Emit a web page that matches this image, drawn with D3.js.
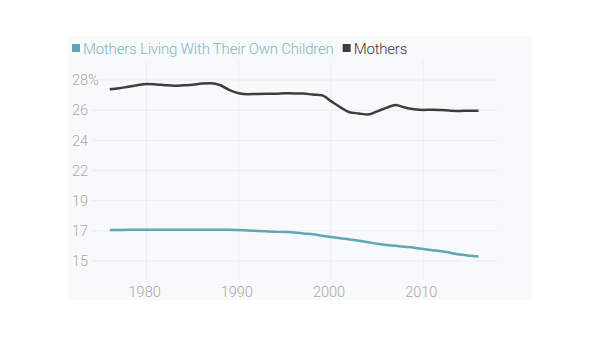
<!DOCTYPE html>
<html>
<head>
<meta charset="utf-8">
<script src="https://cdn.jsdelivr.net/npm/d3@7"></script>
<style>
  body { margin: 0; background: #fff; }
  svg { font-family: "Roboto", sans-serif; font-weight: 300; }
</style>
</head>
<body>
<svg id="chart" width="595" height="352"></svg>
<script>
// data (share of population, %)
const years = d3.range(1976, 2017);
const mothers = [
  27.33, 27.40, 27.52, 27.63, 27.71, 27.68, 27.63, 27.59, 27.62, 27.66,
  27.74, 27.76, 27.62, 27.28, 27.05, 26.98, 27.00, 27.01, 27.01, 27.05,
  27.03, 27.03, 26.95, 26.90, 26.48, 26.05, 25.68, 25.60, 25.52, 25.75,
  26.00, 26.21, 26.02, 25.90, 25.85, 25.87, 25.84, 25.80, 25.78, 25.79,
  25.79
];
const mothersWithChildren = [
  17.22, 17.23, 17.24, 17.24, 17.25, 17.25, 17.25, 17.25, 17.25, 17.25,
  17.25, 17.25, 17.25, 17.25, 17.22, 17.19, 17.16, 17.13, 17.10, 17.08,
  17.05, 16.98, 16.92, 16.82, 16.72, 16.63, 16.55, 16.45, 16.35, 16.24,
  16.15, 16.09, 16.02, 15.95, 15.86, 15.78, 15.70, 15.58, 15.46, 15.38,
  15.33
];
const xTicks = [1980, 1990, 2000, 2010];
const yTicks = d3.range(7).map(i => 15 + i * 13 / 6);
const seriesNames = ["Mothers Living With Their Own Children", "Mothers"];
const seriesColours = ["#62a6b5", "#3e3e3e"];
const legendColours = ["#7fb7c3", "#3a3a3a"];

const svg = d3.select("#chart");

// panel background
svg.append("rect")
  .attr("x", 67).attr("y", 36)
  .attr("width", 466).attr("height", 264)
  .attr("rx", 5)
  .attr("fill", "#f8f9fa");

const x = d3.scaleLinear().domain([1974.4, 2018]).range([95, 497]);
const y = d3.scaleLinear().domain([15, 28]).range([261, 80]);

// grid
svg.append("g")
  .selectAll("line")
  .data(yTicks)
  .join("line")
  .attr("x1", 92).attr("x2", 497)
  .attr("y1", d => y(d)).attr("y2", d => y(d))
  .attr("stroke", "#eaecef")
  .attr("stroke-width", 1);

svg.append("g")
  .selectAll("line")
  .data(xTicks)
  .join("line")
  .attr("x1", d => x(d)).attr("x2", d => x(d))
  .attr("y1", 62).attr("y2", 280)
  .attr("stroke", "#eaecef")
  .attr("stroke-width", 1);

// y labels
svg.append("g")
  .selectAll("text")
  .data(yTicks)
  .join("text")
  .attr("x", 72)
  .attr("y", d => y(d))
  .attr("dy", "0.36em")
  .attr("font-size", 14.5)
  .attr("fill", "#a9a9a9")
  .text((d, i) => Math.round(d) + (i === yTicks.length - 1 ? "%" : ""));

// x labels
svg.append("g")
  .selectAll("text")
  .data(xTicks)
  .join("text")
  .attr("x", d => x(d) - 2)
  .attr("y", 297)
  .attr("text-anchor", "middle")
  .attr("font-size", 14.5)
  .attr("fill", "#a9a9a9")
  .text(d => d);

// lines
const line = d3.line()
  .x((d, i) => x(years[i]))
  .y(d => y(d))
  .curve(d3.curveMonotoneX);

[mothersWithChildren, mothers].forEach((s, k) => {
  svg.append("path")
    .datum(s)
    .attr("d", line)
    .attr("fill", "none")
    .attr("stroke", seriesColours[k])
    .attr("stroke-width", 2.5)
    .attr("stroke-linejoin", "round");
});

// legend
const legend = svg.append("g").attr("transform", "translate(72, 54)");
let lx = 0;
seriesNames.forEach((name, k) => {
  const g = legend.append("g").attr("transform", `translate(${lx}, 0)`);
  g.append("rect")
    .attr("x", 0).attr("y", -10)
    .attr("width", 8).attr("height", 8)
    .attr("fill", seriesColours[k]);
  const t = g.append("text")
    .attr("x", 11)
    .attr("font-size", 15)
    .attr("letter-spacing", -0.2)
    .attr("fill", legendColours[k])
    .text(name);
  lx += 11 + t.node().getComputedTextLength() + 9;
});
</script>
</body>
</html>
